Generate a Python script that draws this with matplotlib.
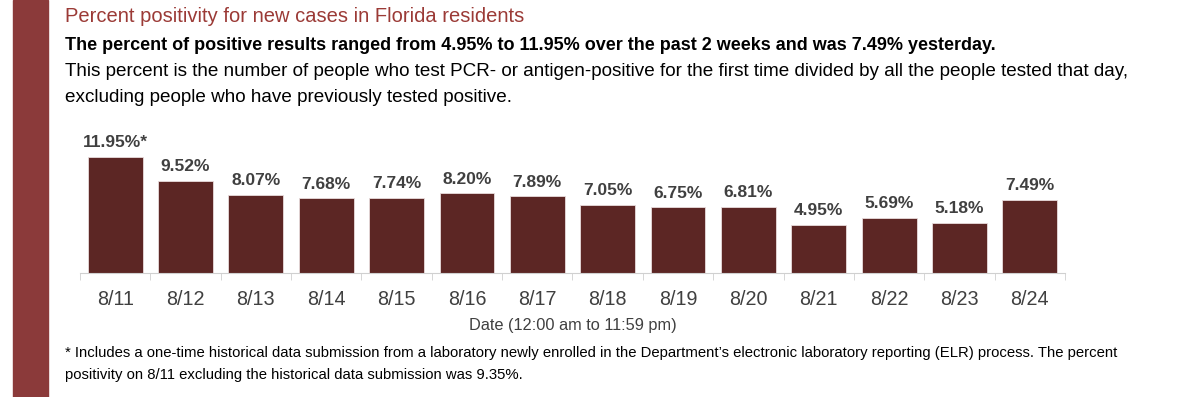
import matplotlib.pyplot as plt
from matplotlib.patches import Rectangle

# Data
dates = ['8/11', '8/12', '8/13', '8/14', '8/15', '8/16', '8/17',
         '8/18', '8/19', '8/20', '8/21', '8/22', '8/23', '8/24']
positivity = [11.95, 9.52, 8.07, 7.68, 7.74, 8.20, 7.89,
              7.05, 6.75, 6.81, 4.95, 5.69, 5.18, 7.49]
value_labels = ['11.95%*', '9.52%', '8.07%', '7.68%', '7.74%', '8.20%', '7.89%',
                '7.05%', '6.75%', '6.81%', '4.95%', '5.69%', '5.18%', '7.49%']

bar_color = '#5c2624'
side_color = '#8b3a3a'
title_color = '#9b3a36'
text_color = '#404040'
font = 'Liberation Sans'

fig = plt.figure(figsize=(12, 3.97), dpi=100)

# Left decorative band
fig.patches.append(Rectangle((13 / 1200, 0), 35 / 1200, 1, transform=fig.transFigure,
                             color=side_color, zorder=0))

# Header text
fig.text(65 / 1200, 1 - 17 / 397, 'Percent positivity for new cases in Florida residents',
         fontsize=14.5, color=title_color, va='center', family=font)
fig.text(65 / 1200, 1 - 46 / 397,
         'The percent of positive results ranged from 4.95% to 11.95% over the past 2 weeks and was 7.49% yesterday.',
         fontsize=13, fontweight='bold', color='black', va='center', family=font)
fig.text(65 / 1200, 1 - 72 / 397,
         'This percent is the number of people who test PCR- or antigen-positive for the first time divided by all the people tested that day,',
         fontsize=13.6, color='black', va='center', family=font)
fig.text(65 / 1200, 1 - 97 / 397, 'excluding people who have previously tested positive.',
         fontsize=13.6, color='black', va='center', family=font)

# Chart
ax = fig.add_axes([80 / 1200, (397 - 273) / 397, 985 / 1200, 143 / 397])
x = range(len(dates))
ax.bar(x, positivity, width=0.78, color=bar_color, edgecolor='#e8dcdc', linewidth=0.6)
for xi, v, lab in zip(x, positivity, value_labels):
    ax.text(xi, v + 0.7, lab, ha='center', va='bottom', fontsize=12.5, fontweight='bold',
            color=text_color, family=font)

ax.set_xlim(-0.5, len(dates) - 0.5)
ax.set_ylim(0, 14.73)
ax.set_xticks(list(x))
ax.set_xticklabels(dates, fontsize=14.2, color=text_color, family=font)
ax.set_xticks([i + 0.5 for i in range(-1, len(dates))], minor=True)
ax.tick_params(axis='x', which='major', length=0, pad=12)
ax.tick_params(axis='x', which='minor', length=5, color='#d0d0d0', direction='out')
ax.set_yticks([])
for s in ['top', 'right', 'left']:
    ax.spines[s].set_visible(False)
ax.spines['bottom'].set_color('#d0d0d0')
ax.set_xlabel('Date (12:00 am to 11:59 pm)', fontsize=11.8, color=text_color,
              family=font, labelpad=7)

# Footnote
fig.text(65 / 1200, 1 - 353 / 397,
         "* Includes a one-time historical data submission from a laboratory newly enrolled in the Department\u2019s electronic laboratory reporting (ELR) process. The percent",
         fontsize=10.7, color='black', va='center', family=font)
fig.text(65 / 1200, 1 - 375 / 397,
         'positivity on 8/11 excluding the historical data submission was 9.35%.',
         fontsize=10.7, color='black', va='center', family=font)

fig.savefig('out.png', dpi=100, facecolor='white')
